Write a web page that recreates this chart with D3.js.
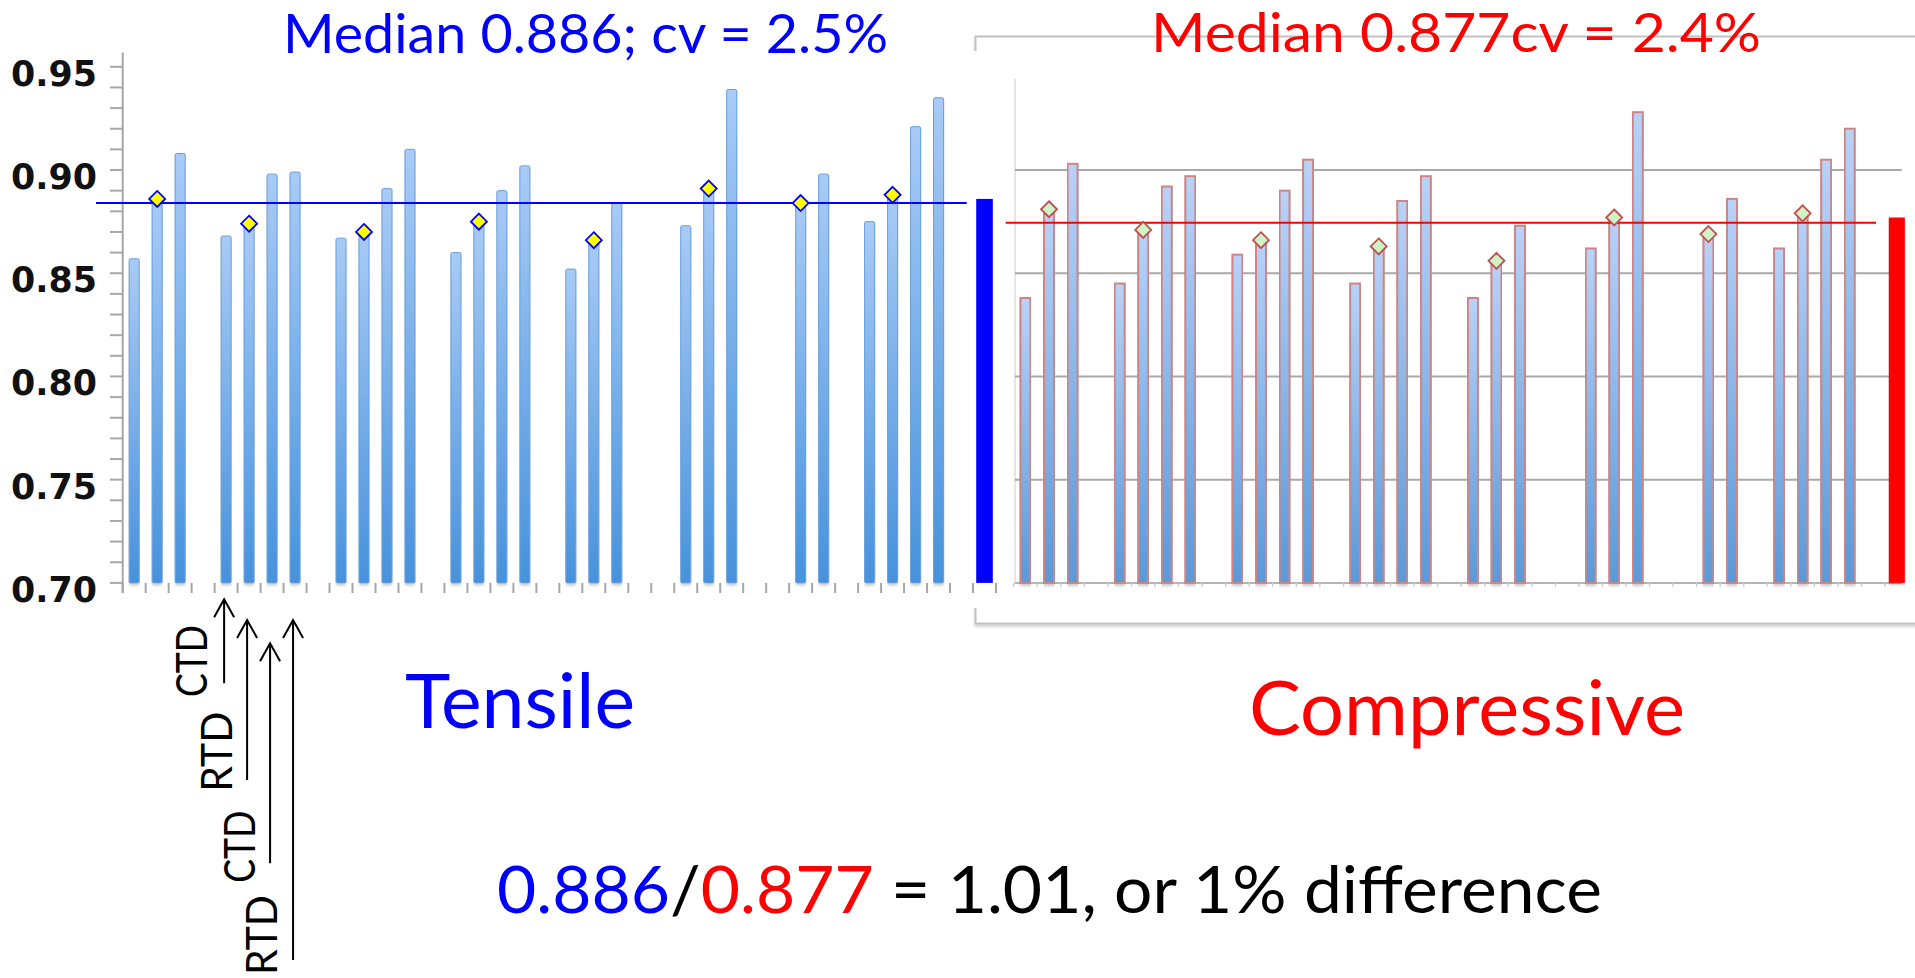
<!DOCTYPE html>
<html>
<head>
<meta charset="utf-8">
<script src="https://cdn.jsdelivr.net/npm/d3@7"></script>
<style>
  body { margin: 0; background: #fff; }
  svg { display: block; }
</style>
</head>
<body>
<svg width="1915" height="978"></svg>
<script>
// slots 0..36 hold the specimen bars (null = empty slot), slot 37 holds the median bar
const tensile = [0.857, 0.886, 0.908, null, 0.868, 0.874, 0.898, 0.899, null,
    0.867, 0.870, 0.891, 0.910, null, 0.860, 0.875, 0.890, 0.902, null,
    0.852, 0.866, 0.884, null, null, 0.873, 0.891, 0.939, null, null,
    0.884, 0.898, null, 0.875, 0.888, 0.921, 0.935, null];
const compressive = [0.838, 0.881, 0.903, null, 0.845, 0.871, 0.892, 0.897, null,
    0.859, 0.866, 0.890, 0.905, null, 0.845, 0.863, 0.885, 0.897, null,
    0.838, 0.856, 0.873, null, null, 0.862, 0.877, 0.928, null, null,
    0.869, 0.886, null, 0.862, 0.879, 0.905, 0.920, null];

// diamond markers (slot, value)
const markerSlots = [1, 5, 10, 15, 20, 25, 29, 33];
const tensileMarkers = [0.886, 0.874, 0.870, 0.875, 0.866, 0.891, 0.884, 0.888];
const compressiveMarkers = [0.881, 0.871, 0.866, 0.863, 0.856, 0.877, 0.869, 0.879];

const medianSlot = 37;
const medianBars = [0.886, 0.877];
const medianLines = [0.884, 0.8745];

const yTicks = [0.70, 0.75, 0.80, 0.85, 0.90, 0.95];
const rightGrid = [0.75, 0.80, 0.85, 0.90];

const arrowSlots = [4, 5, 6, 7];
const arrowLabels = ["CTD", "RTD", "CTD", "RTD"];

const svg = d3.select("svg");
const defs = svg.append("defs");

function vGrad(id, top, bottom) {
    const g = defs.append("linearGradient").attr("id", id)
        .attr("x1", 0).attr("y1", 0).attr("x2", 0).attr("y2", 1);
    g.append("stop").attr("offset", "0%").attr("stop-color", top);
    g.append("stop").attr("offset", "100%").attr("stop-color", bottom);
}
vGrad("gradT", "#a9cbf6", "#4692dc");
vGrad("gradC", "#b9d2f8", "#5a99d8");

const shadow = defs.append("filter").attr("id", "shadow")
    .attr("x", "-5%").attr("y", "-50%").attr("width", "110%").attr("height", "200%");
shadow.append("feDropShadow").attr("dx", 0).attr("dy", 2)
    .attr("stdDeviation", 1.5).attr("flood-color", "#000").attr("flood-opacity", 0.22);

const slots = d3.range(medianSlot + 1);
const y = d3.scaleLinear().domain([0.70, 0.95]).range([582.9, 66.8]);
const xL = d3.scaleBand().domain(slots).range([122.7, 996]);
const xR = d3.scaleBand().domain(slots).range([1013.7, 1908.6]);
const diamond = "M0,-8L8,0L0,8L-8,0Z";

// frame of the compressive chart (partly covered by the tensile chart)
svg.append("rect")
    .attr("x", 975.5).attr("y", 36.5).attr("width", 980).attr("height", 587)
    .attr("fill", "#fff").attr("stroke", "#c2c2c2").attr("stroke-width", 2)
    .attr("filter", "url(#shadow)");
svg.append("rect")
    .attr("x", 0).attr("y", 51).attr("width", 1002).attr("height", 557)
    .attr("fill", "#fff");

// ---------- tensile (left) ----------
const left = svg.append("g");

left.append("g").selectAll("line")
    .data(y.ticks(25))
    .join("line")
    .attr("x1", 110).attr("x2", 122.7)
    .attr("y1", d => y(d)).attr("y2", d => y(d))
    .attr("stroke", "#a8a8a8").attr("stroke-width", 2);

left.append("g").selectAll("line")
    .data(yTicks)
    .join("line")
    .attr("x1", 110).attr("x2", 996)
    .attr("y1", d => y(d)).attr("y2", d => y(d))
    .attr("stroke", "#a6a6a6").attr("stroke-width", 2)
    .attr("filter", "url(#shadow)");

left.append("line")
    .attr("x1", 122.7).attr("x2", 122.7).attr("y1", 52.5).attr("y2", 593)
    .attr("stroke", "#a6a6a6").attr("stroke-width", 2);

left.append("g").selectAll("line")
    .data(slots.concat([slots.length]))
    .join("line")
    .attr("x1", d => 122.7 + d * xL.bandwidth()).attr("x2", d => 122.7 + d * xL.bandwidth())
    .attr("y1", y(0.70)).attr("y2", 593)
    .attr("stroke", "#a6a6a6").attr("stroke-width", 2);

left.append("g").selectAll("rect")
    .data(tensile.map((v, i) => ({ i, v })).filter(d => d.v != null))
    .join("rect")
    .attr("x", d => xL(d.i) + xL.bandwidth() / 2 - 5)
    .attr("width", 10)
    .attr("y", d => y(d.v))
    .attr("height", d => y(0.70) - y(d.v))
    .attr("rx", 1.5)
    .attr("fill", "url(#gradT)")
    .attr("stroke", "#6a9fdc").attr("stroke-width", 1)
    .attr("filter", "url(#shadow)");

left.append("line")
    .attr("x1", 96).attr("x2", 966.7)
    .attr("y1", y(medianLines[0])).attr("y2", y(medianLines[0]))
    .attr("stroke", "#0000ff").attr("stroke-width", 2);

left.append("g").selectAll("path")
    .data(markerSlots.map((s, k) => ({ s, v: tensileMarkers[k] })))
    .join("path")
    .attr("d", diamond)
    .attr("transform", d => `translate(${xL(d.s) + xL.bandwidth() / 2},${y(d.v)})`)
    .attr("fill", "#ffff00").attr("stroke", "#0000ff").attr("stroke-width", 1.8);

left.append("rect")
    .attr("x", xL(medianSlot) + xL.bandwidth() / 2 - 8.3).attr("width", 16.6)
    .attr("y", y(medianBars[0])).attr("height", y(0.70) - y(medianBars[0]))
    .attr("fill", "#0000ff");

left.append("g").selectAll("text")
    .data(yTicks)
    .join("text")
    .attr("x", 97).attr("y", d => y(d) + 19)
    .attr("text-anchor", "end")
    .attr("textLength", 86).attr("lengthAdjust", "spacingAndGlyphs")
    .attr("font-family", "DejaVu Sans").attr("font-weight", "bold")
    .attr("font-size", 36).attr("fill", "#111")
    .text(d => d3.format(".2f")(d));

// ---------- compressive (right) ----------
const right = svg.append("g");

right.append("line")
    .attr("x1", 1015).attr("x2", 1015).attr("y1", 79).attr("y2", y(0.70))
    .attr("stroke", "#dcdcdc").attr("stroke-width", 1.5);

right.append("g").selectAll("line")
    .data(rightGrid)
    .join("line")
    .attr("x1", 1015).attr("x2", 1901.7)
    .attr("y1", d => y(d)).attr("y2", d => y(d))
    .attr("stroke", "#a9a9a9").attr("stroke-width", 2);

right.append("line")
    .attr("x1", 1015).attr("x2", 1901.7)
    .attr("y1", y(0.70)).attr("y2", y(0.70))
    .attr("stroke", "#b4b4b4").attr("stroke-width", 2);

right.append("g").selectAll("line")
    .data(slots)
    .join("line")
    .attr("x1", d => xR(d)).attr("x2", d => xR(d))
    .attr("y1", y(0.70)).attr("y2", y(0.70) + 4)
    .attr("stroke", "#d0d0d0").attr("stroke-width", 1.5);

right.append("g").selectAll("rect")
    .data(compressive.map((v, i) => ({ i, v })).filter(d => d.v != null))
    .join("rect")
    .attr("x", d => xR(d.i) + xR.bandwidth() / 2 - 5)
    .attr("width", 10)
    .attr("y", d => y(d.v))
    .attr("height", d => y(0.70) - y(d.v))
    .attr("fill", "url(#gradC)")
    .attr("stroke", "#cf8585").attr("stroke-width", 2)
    .attr("filter", "url(#shadow)");

right.append("line")
    .attr("x1", 1005.7).attr("x2", 1876)
    .attr("y1", y(medianLines[1])).attr("y2", y(medianLines[1]))
    .attr("stroke", "#ff0000").attr("stroke-width", 2);

right.append("g").selectAll("path")
    .data(markerSlots.map((s, k) => ({ s, v: compressiveMarkers[k] })))
    .join("path")
    .attr("d", diamond)
    .attr("transform", d => `translate(${xR(d.s) + xR.bandwidth() / 2},${y(d.v)})`)
    .attr("fill", "#cdf3c6").attr("stroke", "#c0504d").attr("stroke-width", 1.8);

right.append("rect")
    .attr("x", xR(medianSlot) + xR.bandwidth() / 2 - 8).attr("width", 16)
    .attr("y", y(medianBars[1])).attr("height", y(0.70) - y(medianBars[1]))
    .attr("fill", "#ff0000")
    .attr("filter", "url(#shadow)");

// ---------- texts ----------
const font = "Lato, 'Open Sans', sans-serif";

function label(x, yPos, size, len, color, str) {
    return svg.append("text")
        .attr("x", x).attr("y", yPos)
        .attr("font-family", font).attr("font-size", size)
        .attr("textLength", len).attr("lengthAdjust", "spacingAndGlyphs")
        .attr("fill", color)
        .text(str);
}

label(283, 53.3, 55, 605, "#0000ff", `Median ${medianBars[0]}; cv = 2.5%`);
label(1151, 51.7, 55, 610, "#ff0000", `Median ${medianBars[1]}cv = 2.4%`);
label(405, 728.3, 76, 230, "#0000ff", "Tensile");
label(1249, 735, 76, 436, "#ff0000", "Compressive");

const formula = svg.append("text")
    .attr("x", 497).attr("y", 912.7)
    .attr("font-family", font).attr("font-size", 66)
    .attr("textLength", 1105).attr("lengthAdjust", "spacingAndGlyphs")
    .attr("fill", "#000");
formula.append("tspan").attr("fill", "#0000ff").text(medianBars[0]);
formula.append("tspan").text("/");
formula.append("tspan").attr("fill", "#ff0000").text(medianBars[1]);
formula.append("tspan").text(" = 1.01, or 1% difference");

// ---------- CTD / RTD arrows ----------
const arrowTop = [599.3, 620, 643.3, 620];
const arrowBottom = [683.3, 780, 863.3, 960];
const labelBase = [206.7, 231.7, 255, 276.7];
const labelMid = [661, 751.7, 846.7, 935];

const arrows = svg.append("g");
arrowSlots.forEach((s, k) => {
    const ax = xL(s) + xL.bandwidth() / 2 - 2;
    const t = arrowTop[k];
    arrows.append("path")
        .attr("d", `M${ax},${arrowBottom[k]}V${t}M${ax - 10},${t + 18}L${ax},${t}L${ax + 10},${t + 18}`)
        .attr("fill", "none").attr("stroke", "#000").attr("stroke-width", 2);
    arrows.append("text")
        .attr("transform", `translate(${labelBase[k]},${labelMid[k]}) rotate(-90)`)
        .attr("text-anchor", "middle")
        .attr("font-family", font).attr("font-size", 42)
        .attr("textLength", arrowLabels[k] === "CTD" ? 72 : 80)
        .attr("lengthAdjust", "spacingAndGlyphs")
        .attr("fill", "#000")
        .text(arrowLabels[k]);
});
</script>
</body>
</html>
